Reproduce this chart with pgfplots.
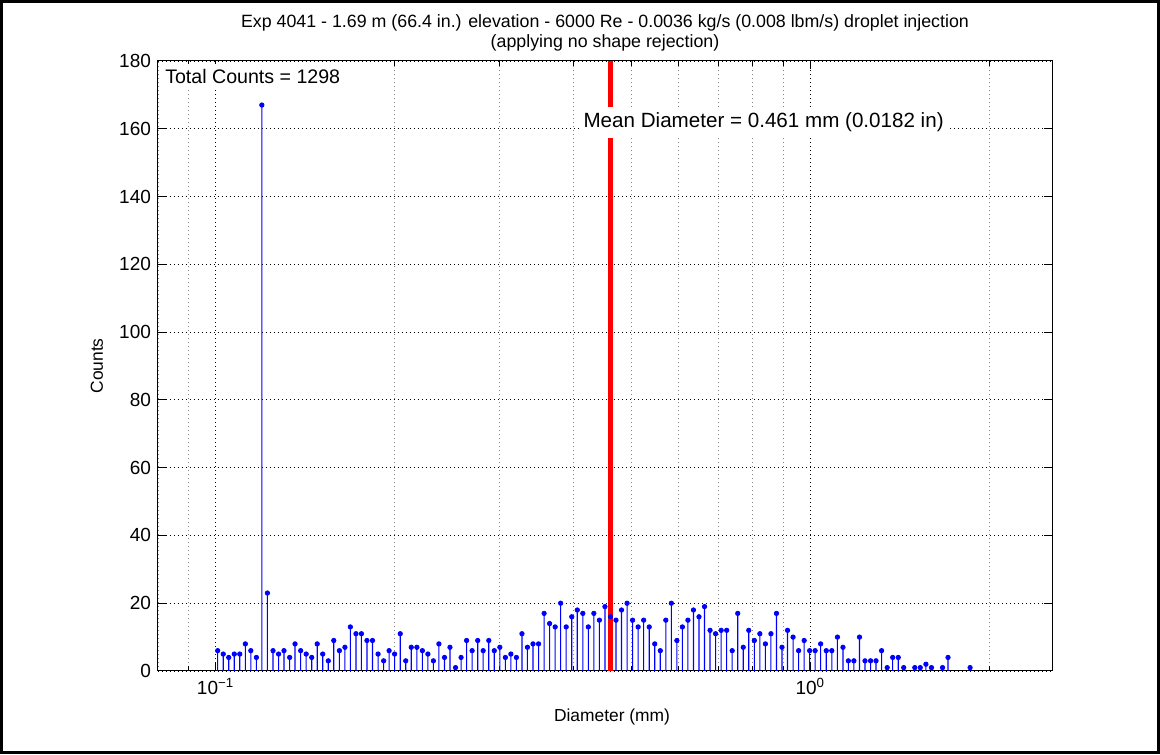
\documentclass[border=0pt]{standalone}
\usepackage{pgfplots}
\pgfplotsset{compat=1.18}
\usepackage{pgfplotstable}
\usepackage{fontspec}
\setmainfont{Liberation Sans}

% droplet diameter (mm) and counts per bin
\pgfplotstableread{
d c
0.1008 6
0.1030 5
0.1052 4
0.1075 5
0.1098 5
0.1122 8
0.1146 6
0.1171 4
0.1196 167
0.1222 23
0.1249 6
0.1276 5
0.1303 6
0.1332 4
0.1360 8
0.1390 6
0.1420 5
0.1451 4
0.1482 8
0.1514 5
0.1547 3
0.1580 9
0.1615 6
0.1650 7
0.1685 13
0.1722 11
0.1759 11
0.1797 9
0.1836 9
0.1876 5
0.1917 3
0.1958 6
0.2000 5
0.2044 11
0.2088 3
0.2133 7
0.2180 7
0.2227 6
0.2275 5
0.2324 3
0.2374 8
0.2426 4
0.2478 7
0.2532 1
0.2587 4
0.2643 9
0.2700 6
0.2759 9
0.2818 6
0.2880 9
0.2942 6
0.3006 7
0.3071 4
0.3137 5
0.3205 4
0.3275 11
0.3345 7
0.3418 8
0.3492 8
0.3568 17
0.3645 14
0.3724 13
0.3804 20
0.3887 13
0.3971 16
0.4057 18
0.4145 17
0.4234 13
0.4326 17
0.4420 15
0.4516 19
0.4613 16
0.4713 15
0.4815 18
0.4920 20
0.5026 15
0.5135 13
0.5246 15
0.5360 13
0.5476 8
0.5595 6
0.5716 15
0.5840 20
0.5966 9
0.6095 13
0.6227 15
0.6362 18
0.6500 16
0.6641 19
0.6784 12
0.6931 11
0.7082 12
0.7235 12
0.7392 6
0.7552 17
0.7715 7
0.7882 12
0.8053 9
0.8227 11
0.8406 8
0.8588 11
0.8774 17
0.8964 7
0.9158 12
0.9356 10
0.9559 6
0.9766 9
0.9977 6
1.019 6
1.041 8
1.064 6
1.087 6
1.111 10
1.135 7
1.159 3
1.184 3
1.210 10
1.236 3
1.263 3
1.290 3
1.318 6
1.347 1
1.376 4
1.406 4
1.436 1
1.499 1
1.531 1
1.565 2
1.599 1
1.669 1
1.705 4
1.857 1
}\drops

\begin{document}
\begin{tikzpicture}
\useasboundingbox (0,0) rectangle (580pt,377pt);
\draw[line width=1.5pt] (0.75pt,0.75pt) rectangle (579.25pt,376.25pt);

\begin{axis}[
  at={(79pt,41.5pt)}, anchor=south west,
  scale only axis, width=447pt, height=305pt,
  xmode=log, xmin=0.08, xmax=2.55,
  ymin=0, ymax=180,
  ytick={0,20,...,180},
  xtick={0.1,1},
  xticklabels={10\textsuperscript{−1}, 10\textsuperscript{0}},
  minor xtick={0.08,0.09,0.2,0.3,0.4,0.5,0.6,0.7,0.8,0.9,2},
  minor y tick num=0,
  grid=both,
  major grid style={black, line width=0.4pt, dash pattern=on 0.5pt off 1.5pt},
  minor grid style={gray, line width=0.4pt, dash pattern=on 0.5pt off 1.5pt},
  major tick length=4pt, minor tick length=2.5pt,
  tick style={black, line width=0.5pt},
  axis line style={black, line width=0.5pt},
  tick label style={font=\fontsize{9.5}{11}\selectfont},
  /pgf/number format/assume math mode=true,
  clip=true,
]
% stems as hairline bars, then the dots on top
\addplot[ybar, bar width=0.55pt, fill=blue, draw=none] table[x=d, y=c] {\drops};
\addplot[only marks, mark=*, mark size=1.1pt, blue,
  mark options={fill=blue, draw=blue}] table[x=d, y=c] {\drops};
\addplot[red, line width=2.25pt] coordinates {(0.461,0) (0.461,180)};

\node[fill=white, anchor=west, inner xsep=2pt, inner ysep=3pt,
  font=\fontsize{9.8}{11}\selectfont] at (axis cs:0.0809,175.3) {Total Counts = 1298};
\node[fill=white, anchor=west, inner xsep=2pt, inner ysep=3pt,
  font=\fontsize{10.3}{11}\selectfont] at (axis cs:0.4087,161.8) {Mean Diameter = 0.461 mm (0.0182 in)};
\end{axis}

\node[align=center, font=\fontsize{8.9}{10}\selectfont] at (302.5pt,360.5pt)
  {Exp 4041 - 1.69 m (66.4 in.) elevation - 6000 Re - 0.0036 kg/s (0.008 lbm/s) droplet injection\\(applying no shape rejection)};
\node[rotate=90, font=\fontsize{8.7}{10}\selectfont] at (48.5pt,194pt) {Counts};
\node[font=\fontsize{8.7}{10}\selectfont] at (306pt,18.5pt) {Diameter (mm)};
\end{tikzpicture}
\end{document}
